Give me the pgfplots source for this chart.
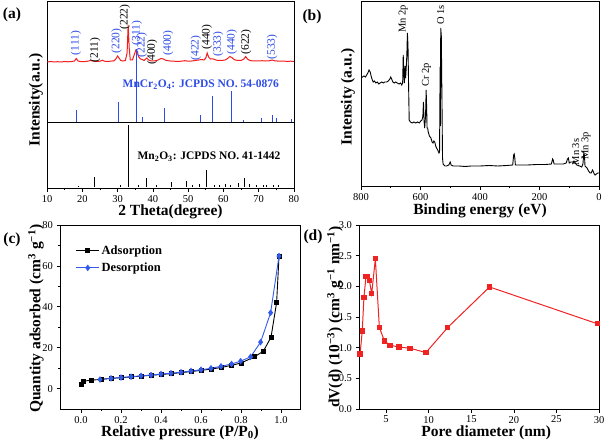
\documentclass[border=0pt]{standalone}
\usepackage{fontspec}
\setmainfont{Liberation Serif}
\usepackage{pgfplots}
\pgfplotsset{compat=1.18}
\definecolor{xrdred}{RGB}{242,30,30}
\definecolor{labblue}{RGB}{45,75,230}
\definecolor{desblue}{RGB}{50,90,235}
\definecolor{pored}{RGB}{240,35,35}
\pgfplotsset{
 panel/.style={scale only axis, anchor=south west, tick align=outside, tick pos=left,
   major tick length=3.5pt, minor tick length=2pt,
   /pgf/number format/assume math mode=true,
   ticklabel style={font=\fontsize{10.5}{11}\selectfont},
   label style={font=\fontsize{15.5}{16}\selectfont\bfseries},
   axis line style={line width=0.8pt},
   every tick/.style={black, line width=0.6pt},
   clip=true,
 },
}
\begin{document}
\begin{tikzpicture}
\path[use as bounding box] (0,0) rectangle (607pt,445pt);
% ---------------- (a)
\begin{axis}[panel, at={(47pt,257pt)}, width=247pt, height=187pt,
  xmin=10, xmax=80, ymin=0, ymax=187,
  xtick={10,20,...,80}, minor x tick num=1, ytick=\empty,
  xlabel={2 Theta(degree)}, ylabel={Intensity(a.u.)},
  xlabel style={at={(axis description cs:0.5,-0.128)}, anchor=center},
  ylabel style={at={(axis description cs:-0.045,0.47)}, anchor=center},
  unbounded coords=jump]
\addplot[xrdred, line width=1pt] coordinates {
(10,126) (11,126.5) (12,126) (13,126.3) (14,126) (15,126.5) (16,126.2) (17,126.5) (17.8,127) (18.3,129.5) (18.8,127) (19.5,126.5) (20.5,126.3) (21.5,126.8) (22.3,127.5) (23,127) (24,126.5) (25,126.8) (25.7,127.8) (26.3,126.8) (27,126.5) (28,126.8) (29,127.2) (29.5,129) (30.0,132) (30.4,130) (30.9,127.5) (31.5,127) (32.2,127.5) (32.7,135) (33.0,163) (33.3,140) (33.6,128) (34.2,128) (34.7,133) (35.2,138) (35.6,136) (36.0,131) (36.5,129) (37.0,128.5) (37.5,127.5) (38.3,130) (38.8,128) (39.5,127) (40.5,127) (41.5,128) (42.3,129.5) (43,129) (43.8,127.5) (45,127) (46,126.8) (47,126.5) (48,126.8) (49,127.3) (50,126.8) (51,127) (52,127.5) (53,128) (53.8,128.5) (54.5,128) (55.0,130) (55.4,135) (55.8,131) (56.3,129) (57,129.2) (57.7,128.2) (58.5,127.5) (59.5,127.5) (60.5,128) (61.2,129.5) (61.8,131.5) (62.4,130.5) (63,128.5) (64,127.5) (65,127.5) (65.8,129) (66.3,131.5) (66.8,129) (67.5,127.5) (68.5,127) (70,127) (71,127.3) (72,127) (73,127.2) (73.8,128) (74.5,127.2) (76,126.8) (77,127) (78,126.6) (79,126.8) (80,126.6)};
% separator / baseline of MnCr2O4 pattern
\addplot[black, line width=0.8pt] coordinates {(10,66) (80,66)};
% MnCr2O4 sticks
\addplot[labblue, line width=1pt] coordinates {
(18.5,66) (18.5,78) (18.5,nan)
(30.3,66) (30.3,86) (30.3,nan)
(35.5,66) (35.5,139) (35.5,nan)
(37.1,66) (37.1,71) (37.1,nan)
(43.2,66) (43.2,80) (43.2,nan)
(53.6,66) (53.6,72.5) (53.6,nan)
(57.0,66) (57.0,92) (57.0,nan)
(62.4,66) (62.4,97) (62.4,nan)
(65.6,66) (65.6,68) (65.6,nan)
(70.9,66) (70.9,70) (70.9,nan)
(73.8,66) (73.8,73) (73.8,nan)
(75.0,66) (75.0,70) (75.0,nan)
(79.3,66) (79.3,69)};
% Mn2O3 sticks
\addplot[black, line width=1pt] coordinates {
(19.0,1.5) (19.0,2.5) (19.0,nan)
(23.4,1.5) (23.4,11.5) (23.4,nan)
(30.9,1.5) (30.9,3) (30.9,nan)
(33.1,1.5) (33.1,63.5) (33.1,nan)
(36.0,1.5) (36.0,3.5) (36.0,nan)
(38.3,1.5) (38.3,10) (38.3,nan)
(40.9,1.5) (40.9,3) (40.9,nan)
(45.3,1.5) (45.3,6.5) (45.3,nan)
(49.5,1.5) (49.5,7) (49.5,nan)
(51.2,1.5) (51.2,3) (51.2,nan)
(53.3,1.5) (53.3,4) (53.3,nan)
(55.3,1.5) (55.3,18.5) (55.3,nan)
(57.5,1.5) (57.5,3) (57.5,nan)
(59.0,1.5) (59.0,3) (59.0,nan)
(60.7,1.5) (60.7,4.5) (60.7,nan)
(62.0,1.5) (62.0,3) (62.0,nan)
(64.2,1.5) (64.2,5) (64.2,nan)
(66.1,1.5) (66.1,10) (66.1,nan)
(67.5,1.5) (67.5,4) (67.5,nan)
(69.3,1.5) (69.3,3) (69.3,nan)
(71.3,1.5) (71.3,3) (71.3,nan)
(72.3,1.5) (72.3,3) (72.3,nan)
(74.1,1.5) (74.1,3) (74.1,nan)
(75.6,1.5) (75.6,3)};
\begin{scope}[every node/.style={rotate=90, font=\fontsize{11.5}{12}\selectfont, inner sep=0pt}]
\node[text=labblue] at (axis cs:18.2,145) {(111)};
\node[text=black]   at (axis cs:23.6,138) {(211)};
\node[text=labblue] at (axis cs:29.7,147) {(220)};
\node[text=black]   at (axis cs:32.1,171) {(222)};
\node[text=labblue] at (axis cs:35.5,155) {(311)};
\node[text=labblue] at (axis cs:36.9,143) {(222)};
\node[text=black]   at (axis cs:39.8,136) {(400)};
\node[text=labblue] at (axis cs:44.3,145) {(400)};
\node[text=labblue] at (axis cs:52.2,140) {(422)};
\node[text=black]   at (axis cs:55.3,151) {(440)};
\node[text=labblue] at (axis cs:58.5,144) {(333)};
\node[text=labblue] at (axis cs:62.4,146) {(440)};
\node[text=black]   at (axis cs:66.4,146) {(622)};
\node[text=labblue] at (axis cs:73.8,141) {(533)};
\end{scope}
\node[text=labblue, font=\fontsize{11.5}{12}\selectfont\bfseries] at (axis cs:53.6,103) {MnCr\textsubscript{2}O\textsubscript{4}: JCPDS NO. 54-0876};
\node[text=black, font=\fontsize{11.5}{12}\selectfont\bfseries] at (axis cs:55.9,31) {Mn\textsubscript{2}O\textsubscript{3}: JCPDS NO. 41-1442};
\end{axis}
% ---------------- (b)
\begin{axis}[panel, at={(361pt,259pt)}, width=238pt, height=185pt,
  xmin=0, xmax=800, ymin=0, ymax=185, x dir=reverse,
  xtick={0,200,...,800}, minor x tick num=1, ytick=\empty,
  xlabel={Binding energy (eV)}, ylabel={Intensity (a.u.)},
  xlabel style={at={(axis description cs:0.5,-0.135)}, anchor=center},
  ylabel style={at={(axis description cs:-0.055,0.48)}, anchor=center}]
\addplot[black, line width=0.9pt] coordinates {
(800,108) (795,109) (790,110) (785,109) (781,111) (777,113) (773,116) (769,114) (766,110) (762,106) (759,104) (755,105) (750,103) (745,104) (740,102) (736,103) (730,104) (725,103) (720,104) (714,104) (708,105) (703,107) (700,109) (697,107) (693,104) (688,103) (683,104) (678,103) (672,102) (667,103) (663,101) (660,103) (658,131) (656,110) (654,103) (652,120) (650,108) (648,118) (646,130) (644,153) (642,140) (640,100) (638,66) (634,64) (628,63) (622,64) (616,63) (610,64) (604,63) (599,65) (595,66) (592,70) (590,84) (588,65) (586,58) (583,70) (581,96) (579,75) (578,58) (576,58) (574,54) (570,50) (565,48) (561,44) (558,43) (555,45) (552,44) (549,40) (546,38) (542,36) (538,33) (536,34) (534,119) (533,60) (532,158) (530,150) (528,90) (527,60) (526,28) (524,22) (518,20) (512,20) (505,21) (500,24) (497,21) (490,20) (470,20) (450,19.5) (430,20) (400,20) (370,20.5) (340,20) (310,20.5) (290,21) (287,31) (285,32) (283,28) (281,21) (270,21) (240,21) (210,21.5) (180,21.5) (160,22) (156,27) (154,26) (151,22) (140,22) (120,22) (110,23) (106,27) (103,28) (100,23) (95,24) (88,24) (84,25) (80,23) (75,21) (65,20) (58,19) (54,22) (51,33) (49,31) (47,20) (44,19) (40,18) (35,15) (30,13) (26,13) (22,16) (20,15) (16,12) (13,11) (9,12) (4,13) (0,13)};
\begin{scope}[every node/.style={rotate=90, font=\fontsize{10.5}{11}\selectfont, inner sep=0pt}]
\node at (axis cs:658,167) {Mn 2p};
\node at (axis cs:580,111) {Cr 2p};
\node at (axis cs:532,171) {O 1s};
\node at (axis cs:78,34) {Mn 3s};
\node at (axis cs:44,40) {Mn 3p};
\end{scope}
\end{axis}
% ---------------- (c)
\begin{axis}[panel, at={(60pt,36pt)}, width=240pt, height=184pt,
  xmin=-0.105, xmax=1.095, ymin=-10, ymax=80,
  xtick={0,0.2,...,1.0}, minor x tick num=1,
  ytick={0,20,...,80}, minor y tick num=1,
  xticklabel style={/pgf/number format/.cd, fixed, fixed zerofill, precision=1},
  xlabel={Relative pressure (P/P\textsubscript{0})},
  ylabel={Quantity adsorbed (cm\textsuperscript{3} g\textsuperscript{−1})},
  xlabel style={at={(axis description cs:0.5,-0.13)}, anchor=center},
  ylabel style={at={(axis description cs:-0.1,0.49)}, anchor=center},
  legend style={at={(axis description cs:0.065,0.9)}, anchor=north west, draw=none, fill=none,
    inner sep=0pt, row sep=3pt, font=\fontsize{12.5}{13}\selectfont\bfseries},
  legend cell align=left,
  legend image code/.code={\draw[mark repeat=2,mark phase=2] plot coordinates {(0pt,0pt) (11.5pt,0pt) (23pt,0pt)};}]
\addplot[black, line width=0.9pt, mark=square*, mark size=2pt] coordinates {
(0.003,2.0) (0.01,3.6) (0.053,4.1) (0.1,4.5) (0.15,5.0) (0.2,5.3) (0.25,5.7) (0.3,6.1) (0.35,6.5) (0.4,6.9) (0.45,7.3) (0.5,7.8) (0.55,8.3) (0.6,8.9) (0.65,9.5) (0.7,10.3) (0.75,11.3) (0.8,12.5) (0.867,15.5) (0.912,18.3) (0.95,25.1) (0.978,42) (0.99,64.5)};
\addlegendentry{Adsorption}
\addplot[desblue, line width=0.9pt, mark=diamond*, mark size=2.6pt] coordinates {
(0.99,64.8) (0.948,37.1) (0.898,22.7) (0.848,15.5) (0.798,13.4) (0.753,12.0) (0.70,10.9) (0.65,9.9) (0.6,9.2) (0.55,8.6) (0.5,8.0) (0.45,7.5) (0.4,7.1) (0.35,6.6) (0.3,6.2) (0.25,5.8) (0.2,5.4) (0.15,5.0) (0.095,4.4)};
\addlegendentry{Desorption}
\end{axis}
% ---------------- (d)
\begin{axis}[panel, at={(359pt,36pt)}, width=240pt, height=184pt,
  xmin=1.82, xmax=30, ymin=0, ymax=3,
  xtick={5,10,...,30}, ytick={0,0.5,...,3.0},
  yticklabel style={/pgf/number format/.cd, fixed, fixed zerofill, precision=1},
  xlabel={Pore diameter (nm)},
  ylabel={dV(d) (10\textsuperscript{−3}) (cm\textsuperscript{3} g\textsuperscript{−1} nm\textsuperscript{−1})},
  xlabel style={at={(axis description cs:0.53,-0.13)}, anchor=center},
  ylabel style={at={(axis description cs:-0.1,0.5)}, anchor=center}]
\addplot[pored, line width=1pt, mark=square*, mark size=2.2pt] coordinates {
(1.95,0.9) (2.2,1.27) (2.4,1.82) (2.64,2.16) (2.84,2.16) (3.03,2.10) (3.31,1.88) (3.74,2.45) (4.21,1.33) (4.8,1.11) (5.47,1.04) (6.53,1.01) (7.83,0.99) (9.68,0.92) (12.24,1.33) (17.15,1.99) (29.8,1.39)};
\end{axis}
% panel letters
\node[font=\fontsize{15.5}{16}\selectfont\bfseries] at (12pt,430pt) {(a)};
\node[font=\fontsize{15.5}{16}\selectfont\bfseries] at (312pt,428pt) {(b)};
\node[font=\fontsize{15.5}{16}\selectfont\bfseries] at (12pt,205pt) {(c)};
\node[font=\fontsize{15.5}{16}\selectfont\bfseries] at (313pt,208pt) {(d)};
\end{tikzpicture}
\end{document}
